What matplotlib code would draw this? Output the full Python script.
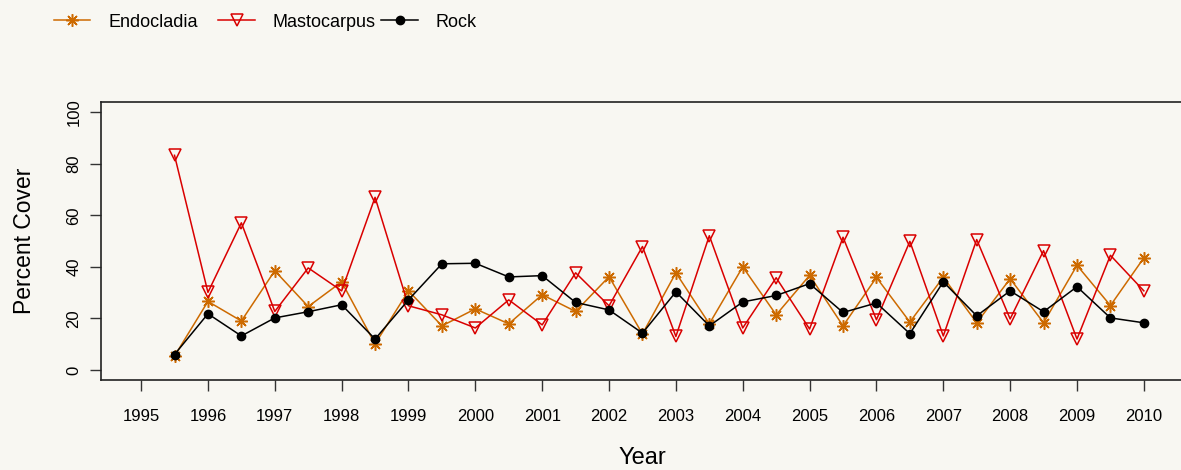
import matplotlib
matplotlib.use("Agg")
import matplotlib.pyplot as plt

plt.rcParams['font.family'] = ['Liberation Sans', 'DejaVu Sans']

# survey times (two surveys a year)
years = [1995.5, 1996, 1996.5, 1997, 1997.5, 1998, 1998.5, 1999, 1999.5, 2000,
         2000.5, 2001, 2001.5, 2002, 2002.5, 2003, 2003.5, 2004, 2004.5, 2005,
         2005.5, 2006, 2006.5, 2007, 2007.5, 2008, 2008.5, 2009, 2009.5, 2010]

endocladia = [5.4, 26.6, 19.0, 38.5, 24.6, 34.2, 10.1, 30.7, 17.1, 23.7,
              17.9, 29.2, 22.7, 36.2, 14.0, 37.7, 17.9, 40.0, 21.4, 36.7,
              17.1, 35.9, 18.6, 36.0, 18.3, 35.4, 18.3, 40.6, 25.0, 43.5]

mastocarpus = [83.3, 30.1, 57.1, 22.7, 39.6, 30.7, 67.0, 24.9, 21.4, 16.3,
               27.2, 17.5, 37.7, 24.9, 47.9, 13.0, 52.1, 16.3, 35.8, 15.9,
               51.5, 19.5, 49.9, 13.2, 50.6, 19.8, 46.3, 12.0, 44.5, 30.7]

rock = [6.0, 21.8, 13.2, 20.2, 22.6, 25.3, 12.0, 27.2, 41.2, 41.4,
        36.1, 36.6, 26.2, 23.3, 14.3, 30.3, 17.1, 26.4, 28.9, 33.5,
        22.3, 26.0, 14.1, 34.2, 21.0, 30.7, 22.6, 32.3, 20.2, 18.3]

xticks = list(range(1995, 2011))
yticks = [0, 20, 40, 60, 80, 100]

bg = '#F8F7F2'
c_endo = '#CD6A00'
c_mast = '#D90000'
c_rock = '#000000'

fig = plt.figure(figsize=(11.81, 4.70), dpi=100, facecolor=bg)
ax = fig.add_axes([0.0855, 0.1909, 0.917, 0.5922], facecolor=bg)

ax.plot(years, endocladia, color=c_endo, lw=1.1, marker=(8, 2, 0), ms=9,
        mew=1.1, label='Endocladia')
ax.plot(years, mastocarpus, color=c_mast, lw=1.1, marker='v', ms=9,
        mfc='none', mew=1.1, label='Mastocarpus')
ax.plot(years, rock, color=c_rock, lw=1.1, marker='o', ms=6,
        label='Rock')

ax.set_xlim(1994.4, 2010.6)
ax.set_ylim(-4, 104)
ax.set_xticks(xticks)
ax.set_xticklabels([str(y) for y in xticks])
ax.set_yticks(yticks)
ax.set_yticklabels([str(v) for v in yticks], rotation=90, va='center')

ax.tick_params(axis='both', direction='out', length=8, width=1.0,
               labelsize=12, color='#333333')
ax.tick_params(axis='x', pad=13)
ax.tick_params(axis='y', pad=6)
for s in ax.spines.values():
    s.set_linewidth(1.2)
    s.set_color('#222222')

ax.set_xlabel('Year', fontsize=17, labelpad=16)
ax.set_ylabel('Percent Cover', fontsize=16.5, labelpad=22)

# legend entries spread evenly across the top, like the R legend
handles, labels = ax.get_legend_handles_labels()
starts = [0.046, 0.185, 0.323]
for h, lab, x0 in zip(handles, labels, starts):
    fig.legend([h], [lab], loc='center left', bbox_to_anchor=(x0, 0.953),
               frameon=False, fontsize=13, handlelength=2.0,
               handletextpad=1.0, borderaxespad=0, borderpad=0)

fig.savefig('out.png', dpi=100, facecolor=bg)
